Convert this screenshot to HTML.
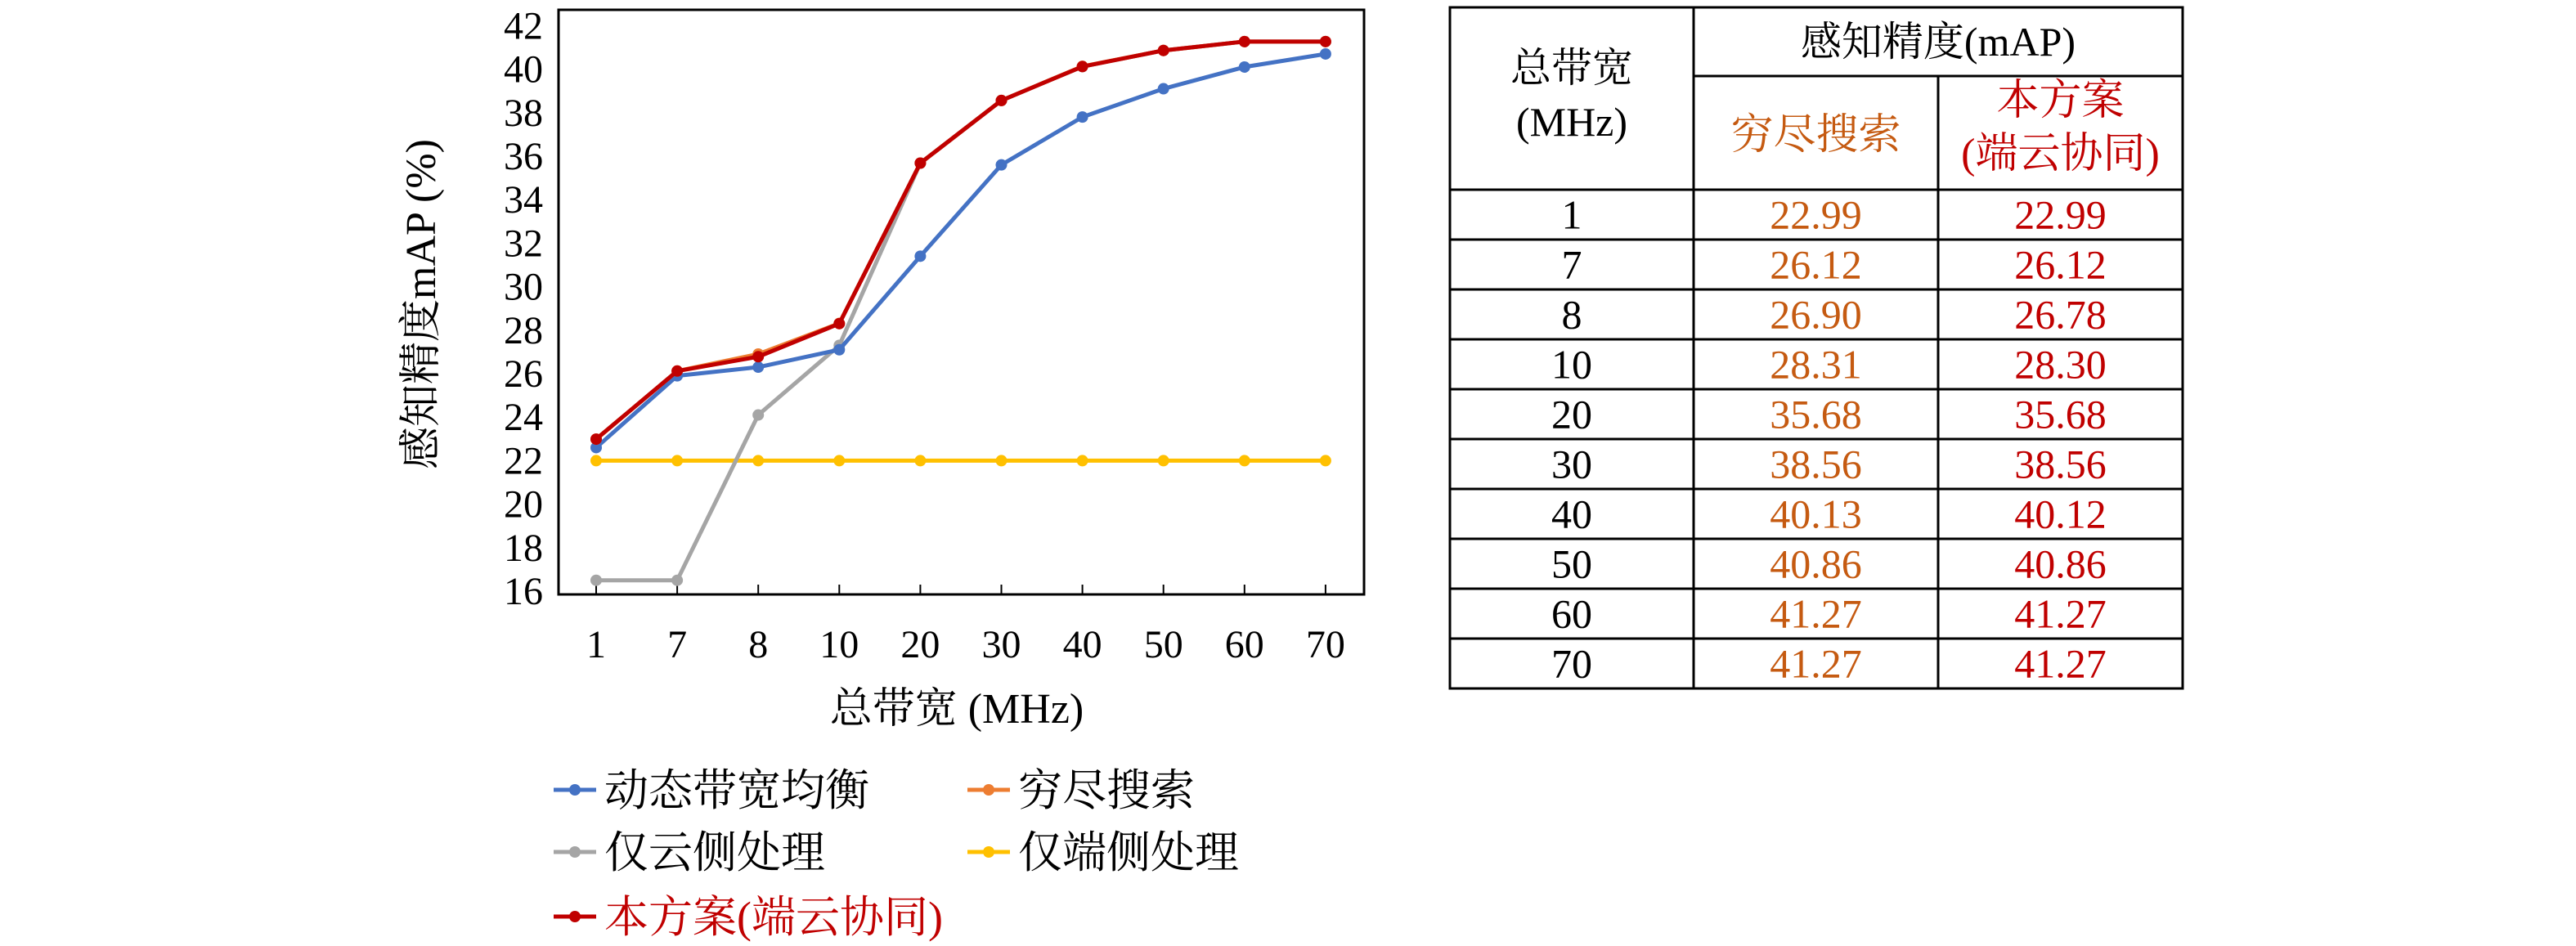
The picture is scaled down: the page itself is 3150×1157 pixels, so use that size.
<!DOCTYPE html>
<html><head><meta charset="utf-8">
<style>
body{margin:0;background:#fff;}
svg{display:block;}
.serif{font-family:"Liberation Serif","Noto Serif CJK SC",serif;}
</style></head>
<body>
<svg id="chart" width="3150" height="1157" viewBox="0 0 3150 1157" xmlns="http://www.w3.org/2000/svg">
<rect x="683" y="12" width="985" height="715" fill="none" stroke="#000" stroke-width="3"/>
<g id="yticks"></g><g id="xticks"></g><g id="series"></g>
<text x="1170" y="884" font-size="52" text-anchor="middle" class="serif">总带宽 (MHz)</text>
<text transform="translate(532,372) rotate(-90)" font-size="52" text-anchor="middle" class="serif">感知精度mAP (%)</text>
<g id="legend"></g>
<g id="table"></g>
</svg>
<script>
const categories=["1","7","8","10","20","30","40","50","60","70"];
const yTicks=[16,18,20,22,24,26,28,30,32,34,36,38,40,42];
const dynamicBW=[22.6,25.9,26.3,27.1,31.4,35.6,37.8,39.1,40.1,40.7];
const exhaustive=[22.99,26.12,26.90,28.31,35.68,38.56,40.13,40.86,41.27,41.27];
const cloudOnly=[16.5,16.5,24.1,27.3,35.68,38.56,40.12,40.86,41.27,41.27];
const edgeOnly=[22,22,22,22,22,22,22,22,22,22];
const proposed=[22.99,26.12,26.78,28.30,35.68,38.56,40.12,40.86,41.27,41.27];
const exhaustiveLabels=["22.99","26.12","26.90","28.31","35.68","38.56","40.13","40.86","41.27","41.27"];
const proposedLabels=["22.99","26.12","26.78","28.30","35.68","38.56","40.12","40.86","41.27","41.27"];

const NS="http://www.w3.org/2000/svg";
function mk(tag,attrs,parent,txt){const e=document.createElementNS(NS,tag);for(const k in attrs)e.setAttribute(k,attrs[k]);if(txt!==undefined)e.textContent=txt;parent.appendChild(e);return e;}
const x=i=>729+i*99.1;
const y=v=>723-(v-16)*26.6;

const yt=document.getElementById('yticks');
yTicks.forEach(t=>{
  const e=mk('text',{x:664,y:y(t)+16,'font-size':48,'text-anchor':'end',class:'serif'},yt,String(t));
  
  
});
const xt=document.getElementById('xticks');
categories.forEach((c,i)=>{
  const l=mk('line',{x1:x(i),x2:x(i),y1:727,y2:715,stroke:'#000','stroke-width':2},xt);
  
  
  const e=mk('text',{x:x(i),y:804,'font-size':48,'text-anchor':'middle',class:'serif'},xt,c);
  
  
});

const seriesList=[
 {name:'series-edge-only',data:edgeOnly,color:'#FFC000'},
 {name:'series-cloud-only',data:cloudOnly,color:'#A5A5A5'},
 {name:'series-dynamic-bandwidth',data:dynamicBW,color:'#4472C4'},
 {name:'series-exhaustive-search',data:exhaustive,color:'#ED7D31'},
 {name:'series-proposed',data:proposed,color:'#C00000'}
];
const sg=document.getElementById('series');
seriesList.forEach(s=>{
  const g=mk('g',{},sg);
  
  
  const pts=s.data.map((v,i)=>x(i)+','+y(v)).join(' ');
  const pl=mk('polyline',{points:pts,fill:'none',stroke:s.color,'stroke-width':5,'stroke-linejoin':'round'},g);
  
  
  s.data.forEach((v,i)=>{
    const c=mk('circle',{cx:x(i),cy:y(v),r:7,fill:s.color},g);
    
    
  });
});

const legendItems=[
 {label:'动态带宽均衡',color:'#4472C4',lx:677,ty:966,tc:'#000'},
 {label:'穷尽搜索',color:'#ED7D31',lx:1183,ty:966,tc:'#000'},
 {label:'仅云侧处理',color:'#A5A5A5',lx:677,ty:1042,tc:'#000'},
 {label:'仅端侧处理',color:'#FFC000',lx:1183,ty:1042,tc:'#000'},
 {label:'本方案(端云协同)',color:'#C00000',lx:677,ty:1121,tc:'#C00000'}
];
const lg=document.getElementById('legend');
legendItems.forEach(it=>{
  const g=mk('g',{},lg);
  
  
  mk('line',{x1:it.lx,x2:it.lx+52,y1:it.ty,y2:it.ty,stroke:it.color,'stroke-width':5},g);
  mk('circle',{cx:it.lx+26,cy:it.ty,r:7,fill:it.color},g);
  mk('text',{x:it.lx+62,y:it.ty+19,'font-size':54,fill:it.tc,class:'serif'},g,it.label);
});

const tb=document.getElementById('table');
const L=1773,R=2669,C1=2071,C2=2370,T=9,H1=93,H2=232,rowH=61,B=H2+rowH*10;
mk('rect',{x:L,y:T,width:R-L,height:B-T,fill:'none',stroke:'#000','stroke-width':3},tb);
mk('line',{x1:C1,x2:C1,y1:T,y2:B,stroke:'#000','stroke-width':3},tb);
mk('line',{x1:C2,x2:C2,y1:H1,y2:B,stroke:'#000','stroke-width':3},tb);
mk('line',{x1:C1,x2:R,y1:H1,y2:H1,stroke:'#000','stroke-width':3},tb);
for(let i=0;i<categories.length;i++){
  mk('line',{x1:L,x2:R,y1:H2+i*rowH,y2:H2+i*rowH,stroke:'#000','stroke-width':3},tb);
}
const hdr=mk('g',{},tb);


mk('text',{x:(L+C1)/2,y:100,'font-size':50,'text-anchor':'middle',class:'serif'},hdr,'总带宽');
mk('text',{x:(L+C1)/2,y:166,'font-size':50,'text-anchor':'middle',class:'serif'},hdr,'(MHz)');
mk('text',{x:(C1+R)/2,y:68,'font-size':50,'text-anchor':'middle',class:'serif'},hdr,'感知精度(mAP)');
mk('text',{x:(C1+C2)/2,y:182,'font-size':52,'text-anchor':'middle',fill:'#C55A11',class:'serif'},hdr,'穷尽搜索');
mk('text',{x:(C2+R)/2,y:140,'font-size':52,'text-anchor':'middle',fill:'#C00000',class:'serif'},hdr,'本方案');
mk('text',{x:(C2+R)/2,y:205,'font-size':52,'text-anchor':'middle',fill:'#C00000',class:'serif'},hdr,'(端云协同)');
categories.forEach((c,i)=>{
  const g=mk('g',{},tb);
  
  
  const cy=H2+i*rowH+rowH/2+17;
  mk('text',{x:(L+C1)/2,y:cy,'font-size':50,'text-anchor':'middle',class:'serif'},g,c);
  mk('text',{x:(C1+C2)/2,y:cy,'font-size':50,'text-anchor':'middle',fill:'#C55A11',class:'serif'},g,exhaustiveLabels[i]);
  mk('text',{x:(C2+R)/2,y:cy,'font-size':50,'text-anchor':'middle',fill:'#C00000',class:'serif'},g,proposedLabels[i]);
});
</script>
</body></html>
